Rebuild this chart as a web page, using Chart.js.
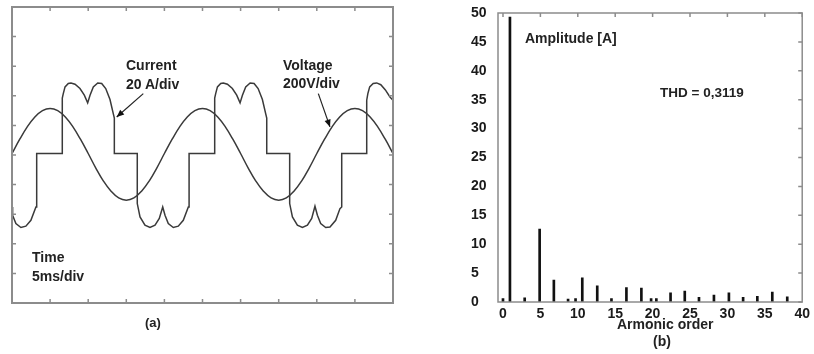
<!DOCTYPE html>
<html>
<head>
<meta charset="utf-8">
<script src="https://cdn.jsdelivr.net/npm/chart.js@4"></script>
<style>
    body { margin: 0; background: #fff; }
    #wrap { position: relative; width: 814px; height: 354px; overflow: hidden; }
    #waveCanvas { position: absolute; left: 0; top: 0; }
    #spectrumCanvas { position: absolute; left: 460px; top: 0; }
    .lbl { position: absolute; font-family: 'Liberation Sans', Arial, sans-serif; font-weight: bold; font-size: 14px; line-height: 16px; color: #222; white-space: nowrap; }
</style>
</head>
<body>
<div id="wrap">
    <canvas id="waveCanvas" width="410" height="354"></canvas>
    <canvas id="spectrumCanvas" width="354" height="354"></canvas>

    <div class="lbl" style="left:126px; top:57px;">Current</div>
    <div class="lbl" style="left:126px; top:76px;">20 A/div</div>
    <div class="lbl" style="left:283px; top:57px;">Voltage</div>
    <div class="lbl" style="left:283px; top:75px;">200V/div</div>
    <div class="lbl" style="left:32px; top:249px;">Time</div>
    <div class="lbl" style="left:32px; top:268px;">5ms/div</div>
    <div class="lbl" style="left:145px; top:315px; font-size:13px;">(a)</div>

    <div class="lbl" style="left:525px; top:30px;">Amplitude [A]</div>
    <div class="lbl" style="left:660px; top:85px; font-size:13.5px;">THD = 0,3119</div>
    <div class="lbl" style="left:617px; top:316px;">Armonic order</div>
    <div class="lbl" style="left:653px; top:333px;">(b)</div>
</div>

<script>
// (a) oscilloscope trace, time in ms (5 ms/div)
const voltageTime = [0, 1, 2, 3, 4, 5, 6, 7, 8, 9, 10, 11, 12, 13, 14, 15, 16, 17, 18, 19,
    20, 21, 22, 23, 24, 25, 26, 27, 28, 29, 30, 31, 32, 33, 34, 35, 36, 37, 38, 39,
    40, 41, 42, 43, 44, 45, 46, 47, 48, 49, 50];
// voltage in V (200 V/div)
const voltageValues = [0, 95, 180, 247, 290, 305, 290, 247, 180, 95, 0, -98, -186, -255, -300, -315, -300, -255, -186, -98,
    0, 95, 180, 247, 290, 305, 290, 247, 180, 95, 0, -98, -186, -255, -300, -315, -300, -255, -186, -98,
    0, 95, 180, 247, 290, 305, 290, 247, 180, 95, 0];

// current in A (20 A/div)
const currentTime = [0, 0.08, 0.51, 1.17, 1.82, 2.48, 3.14, 3.24, 3.24,
    6.60, 6.60, 6.73, 6.96, 7.39, 7.74, 8.27, 8.92, 9.49, 9.93, 10.24, 10.67, 11.25, 11.77, 12.30, 12.86, 13.29, 13.43, 13.43,
    16.44, 16.44, 16.80, 17.45, 18.11, 18.77, 19.33, 19.78, 20.08, 20.51, 21.17, 21.82, 22.48, 23.14, 23.24, 23.24,
    26.60, 26.60, 26.73, 26.96, 27.39, 27.74, 28.27, 28.92, 29.49, 29.93, 30.24, 30.67, 31.25, 31.77, 32.30, 32.86, 33.29, 33.43, 33.43,
    36.44, 36.44, 36.80, 37.45, 38.11, 38.77, 39.33, 39.76, 40.08, 40.51, 41.17, 41.73, 42.48, 43.04, 43.27, 43.27,
    46.55, 46.55, 46.70, 46.94, 47.40, 47.86, 48.40, 49.00, 49.60, 50];
const currentValues = [-36.1, -41.7, -47.3, -50.0, -49.1, -45.1, -36.1, -36.1, 0,
    0, 37.4, 40.5, 45.0, 47.3, 47.7, 46.8, 43.9, 39.4, 34.2, 39.4, 45.0, 47.7, 47.3, 43.9, 36.5, 27.0, 23.9, 0,
    0, -33.8, -42.8, -48.4, -50.0, -48.4, -43.9, -36.1, -41.7, -47.3, -50.0, -49.1, -45.1, -36.1, -36.1, 0,
    0, 37.4, 40.5, 45.0, 47.3, 47.7, 46.8, 43.9, 39.4, 34.2, 39.4, 45.0, 47.7, 47.3, 43.9, 36.5, 27.0, 23.9, 0,
    0, -33.8, -42.8, -48.4, -50.0, -48.4, -43.9, -35.6, -41.7, -47.3, -50.0, -49.6, -45.1, -37.2, -36.1, 0,
    0, 36.0, 40.5, 45.0, 47.3, 47.7, 46.5, 43.0, 38.2, 36.0];

// (b) harmonic spectrum, positions as read on the drawn axis
const harmonicOrder = [0, 0.93, 2.9, 4.9, 6.8, 8.7, 9.7, 10.6, 12.6, 14.5, 16.5, 18.5, 19.8, 20.5,
    22.4, 24.3, 26.2, 28.2, 30.2, 32.1, 34.0, 36.0, 38.0];
const harmonicAmp = [0.6, 49.3, 0.7, 12.6, 3.8, 0.5, 0.6, 4.2, 2.8, 0.6, 2.5, 2.4, 0.6, 0.6,
    1.6, 1.9, 0.8, 1.2, 1.6, 0.8, 1.0, 1.7, 0.9];
const ampTicks = [0, 5, 10, 15, 20, 25, 30, 35, 40, 45, 50];
const orderTicks = [0, 5, 10, 15, 20, 25, 30, 35, 40];

const toPoints = (xs, ys) => xs.map((x, i) => ({ x: x, y: ys[i] }));

// frame with inward graticule ticks (10 x 10 divisions)
const scopeFrame = {
    id: 'scopeFrame',
    afterDraw(chart) {
        const a = chart.chartArea;
        const ctx = chart.ctx;
        ctx.save();
        ctx.strokeStyle = '#8c8c8c';
        ctx.lineWidth = 2;
        ctx.strokeRect(a.left, a.top, a.right - a.left, a.bottom - a.top);
        ctx.lineWidth = 1.5;
        ctx.beginPath();
        for (let i = 1; i < 10; i++) {
            const x = a.left + (a.right - a.left) * i / 10;
            const y = a.top + (a.bottom - a.top) * i / 10;
            ctx.moveTo(x, a.top); ctx.lineTo(x, a.top + 4);
            ctx.moveTo(x, a.bottom); ctx.lineTo(x, a.bottom - 4);
            ctx.moveTo(a.left, y); ctx.lineTo(a.left + 4, y);
            ctx.moveTo(a.right, y); ctx.lineTo(a.right - 4, y);
        }
        ctx.stroke();

        // label arrows
        const sx = chart.scales.x, sa = chart.scales.yA, sv = chart.scales.yV;
        const arrow = (x1, y1, x2, y2) => {
            const ang = Math.atan2(y2 - y1, x2 - x1);
            ctx.strokeStyle = '#222';
            ctx.fillStyle = '#111';
            ctx.lineWidth = 1.2;
            ctx.beginPath();
            ctx.moveTo(x1, y1); ctx.lineTo(x2, y2);
            ctx.stroke();
            ctx.beginPath();
            ctx.moveTo(x2, y2);
            ctx.lineTo(x2 - 8 * Math.cos(ang - 0.4), y2 - 8 * Math.sin(ang - 0.4));
            ctx.lineTo(x2 - 8 * Math.cos(ang + 0.4), y2 - 8 * Math.sin(ang + 0.4));
            ctx.closePath();
            ctx.fill();
        };
        arrow(sx.getPixelForValue(17.23), sa.getPixelForValue(40.5), sx.getPixelForValue(13.74), sa.getPixelForValue(24.7));
        arrow(sx.getPixelForValue(40.2), sv.getPixelForValue(405), sx.getPixelForValue(41.73), sv.getPixelForValue(180));
        ctx.restore();
    }
};

new Chart(document.getElementById('waveCanvas'), {
    type: 'line',
    data: {
        datasets: [{
            label: 'Voltage',
            data: toPoints(voltageTime, voltageValues),
            yAxisID: 'yV',
            borderColor: '#3a3a3a',
            borderWidth: 1.5,
            pointRadius: 0,
            tension: 0.4
        }, {
            label: 'Current',
            data: toPoints(currentTime, currentValues),
            yAxisID: 'yA',
            borderColor: '#3a3a3a',
            borderWidth: 1.5,
            pointRadius: 0,
            tension: 0
        }]
    },
    options: {
        responsive: false,
        animation: false,
        layout: { padding: { left: 12, top: 7, right: 17, bottom: 51 } },
        plugins: { legend: { display: false }, tooltip: { enabled: false } },
        scales: {
            x: { type: 'linear', min: 0, max: 50, display: false },
            yA: { type: 'linear', min: -101, max: 99, display: false },
            yV: { type: 'linear', min: -1010, max: 990, display: false }
        }
    },
    plugins: [scopeFrame]
});

// frame + inward ticks on top and right for the spectrum
const spectrumFrame = {
    id: 'spectrumFrame',
    afterDraw(chart) {
        const a = chart.chartArea;
        const ctx = chart.ctx;
        const sx = chart.scales.x, sy = chart.scales.y;
        ctx.save();
        ctx.strokeStyle = '#8c8c8c';
        ctx.lineWidth = 1.5;
        ctx.strokeRect(a.left, a.top, a.right - a.left, a.bottom - a.top);
        ctx.beginPath();
        orderTicks.forEach(v => {
            const x = sx.getPixelForValue(v);
            ctx.moveTo(x, a.top); ctx.lineTo(x, a.top + 4);
        });
        ampTicks.forEach(v => {
            const y = sy.getPixelForValue(v);
            ctx.moveTo(a.right, y); ctx.lineTo(a.right - 4, y);
        });
        ctx.stroke();
        ctx.restore();
    }
};

new Chart(document.getElementById('spectrumCanvas'), {
    type: 'bar',
    data: {
        datasets: [{
            label: 'Amplitude [A]',
            data: toPoints(harmonicOrder, harmonicAmp),
            backgroundColor: '#111',
            barThickness: 2
        }]
    },
    options: {
        responsive: false,
        animation: false,
        layout: { padding: { left: 11, top: 13, right: 11, bottom: 0 } },
        plugins: { legend: { display: false }, tooltip: { enabled: false } },
        scales: {
            x: {
                type: 'linear', min: -0.667, max: 40, offset: false,
                afterBuildTicks: s => { s.ticks = orderTicks.map(v => ({ value: v })); },
                afterFit: s => { s.height = 52; },
                grid: { display: false, drawTicks: false },
                border: { display: false },
                ticks: { color: '#1a1a1a', font: { family: 'Liberation Sans', size: 14, weight: 'bold' }, padding: 4, maxRotation: 0 }
            },
            y: {
                min: 0, max: 50,
                afterBuildTicks: s => { s.ticks = ampTicks.map(v => ({ value: v })); },
                afterFit: s => { s.width = 27; },
                grid: { display: false, drawTicks: false },
                border: { display: false },
                ticks: { color: '#1a1a1a', font: { family: 'Liberation Sans', size: 14, weight: 'bold' }, crossAlign: 'far', padding: 0 }
            }
        }
    },
    plugins: [spectrumFrame]
});
</script>
</body>
</html>
